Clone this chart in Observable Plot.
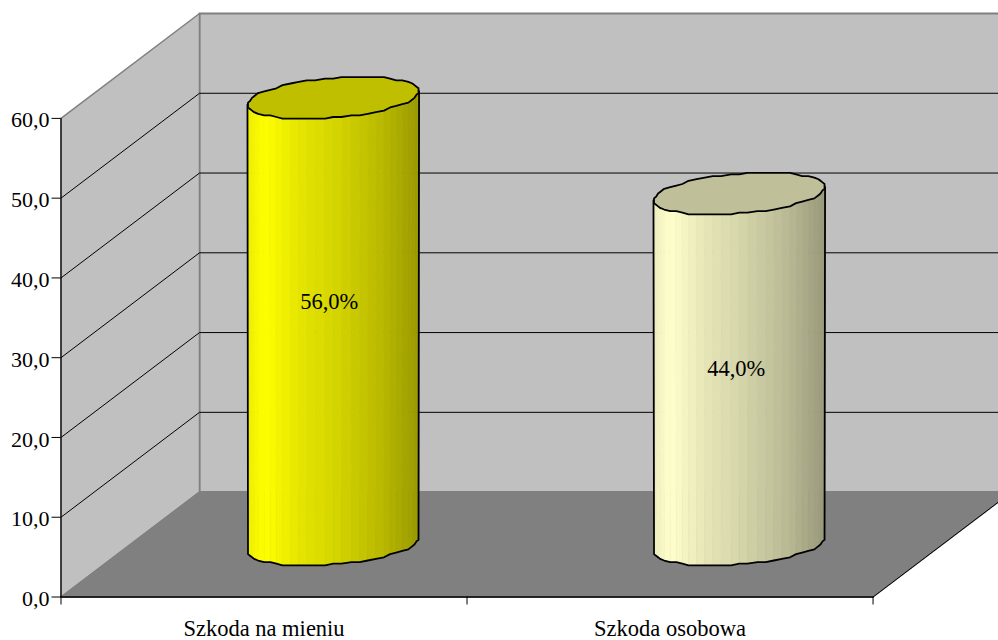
<!DOCTYPE html>
<html lang="pl">
<head>
<meta charset="utf-8">
<style>
  html, body { margin: 0; padding: 0; background: #fff; }
  svg { display: block; }
</style>
<script src="https://cdn.jsdelivr.net/npm/d3@7"></script>
<script src="https://cdn.jsdelivr.net/npm/@observablehq/plot@0.6"></script>
</head>
<body>
<script>
// Chart values
const categories = ["Szkoda na mieniu", "Szkoda osobowa"];
const values = [56.0, 44.0];
const valueLabels = ["56,0%", "44,0%"];
const yTicks = [0, 10, 20, 30, 40, 50, 60];
const yMax = 60;

// Base colour of each cylinder as RGB
const baseColors = [[255, 255, 0], [255, 255, 204]];
// Brightness across the cylinder's width: [position 0..1, multiplier]
const shadeStops = [[0, 0.93], [0.1, 1], [0.3, 0.9], [0.5, 0.84], [0.8, 0.72], [1, 0.6]];
const topShade = 0.75;

// Oblique projection of the 3D box: how far the back of the box shifts
// in x-scale units (one category = 1) and in y-scale units.
const depthX = 0.3411;
const depthY = 13.15;
const project = (u, w, v) => ({x: u + w * depthX, y: v + w * depthY});

// Cylinder footprint: share of a category and of the depth that its radius spans
const radiusU = 0.2;
const radiusW = 0.2;
const facetCount = 30;

// Rim outlines are drawn on a fine grid, which gives them their faceted edge
const snapX = 0.005;
const snapY = 0.2;
const snap = (d, step) => Math.round(d / step) * step;

const shade = d3.scaleLinear(shadeStops.map(s => s[0]), shadeStops.map(s => s[1]));
const tint = (rgb, k) => `rgb(${rgb.map(c => Math.round(c * k)).join(",")})`;

// Point on the rim of cylinder i at angle t and height v
const rim = (i, t, v) =>
  project(i + 0.5 + radiusU * Math.cos(t), 0.5 + radiusW * Math.sin(t), v);
// The same point after snapping its offset from the cylinder's axis
const rimSnapped = (i, t, v) => {
  const c = project(i + 0.5, 0.5, v);
  const p = rim(i, t, v);
  return {x: c.x + snap(p.x - c.x, snapX), y: c.y + snap(p.y - c.y, snapY)};
};

// Angle where the rim reaches its rightmost point on screen
const tangent = Math.atan2(radiusW * depthX, radiusU);
const frontAngles = d3.range(facetCount + 1).map(k => tangent - Math.PI * k / facetCount).reverse();
const fullAngles = d3.range(61).map(k => tangent + k * Math.PI / 30);

const wallFill = "#c0c0c0";
const floorFill = "#808080";
const edge = "#808080";
const formatTick = d => d.toFixed(1).replace(".", ",");

const polygon = (points, options) => Plot.line(points, {x: "x", y: "y", ...options});

const marks = [
  // Back wall
  polygon([project(0, 1, 0), project(0, 1, yMax), project(2, 1, yMax), project(2, 1, 0), project(0, 1, 0)],
    {fill: wallFill, stroke: edge, strokeWidth: 2}),
  // Side wall
  polygon([project(0, 0, 0), project(0, 0, yMax), project(0, 1, yMax), project(0, 1, 0), project(0, 0, 0)],
    {fill: wallFill, stroke: edge, strokeWidth: 1.5}),
  // Floor
  polygon([project(0, 0, 0), project(2, 0, 0), project(2, 1, 0), project(0, 1, 0), project(0, 0, 0)],
    {fill: floorFill, stroke: edge, strokeWidth: 1.5}),
  // Front-right floor edge
  polygon([project(2, 0, 0), project(2, 1, 0)], {stroke: "#000", strokeWidth: 1}),
  // Gridlines on both walls
  ...yTicks.filter(v => v > 0 && v < yMax).map(v =>
    polygon([project(0, 0, v), project(0, 1, v), project(2, 1, v)], {stroke: "#000", strokeWidth: 1})),
  // Axis lines and ticks
  polygon([project(0, 0, 0), project(0, 0, yMax)], {stroke: "#000", strokeWidth: 1.2}),
  polygon([project(0, 0, 0), project(2, 0, 0)], {stroke: "#000", strokeWidth: 1.6}),
  Plot.axisY({ticks: yTicks, tickFormat: () => "", tickSize: 9, label: null, stroke: "#000"}),
  Plot.text(yTicks, {x: () => 0, y: d => d, text: formatTick, textAnchor: "end", dx: -11.5, dy: 2,
    fontSize: 22, fill: "#000"}),
  Plot.axisX({ticks: [0, 1, 2], tickFormat: () => "", tickSize: 8, label: null, stroke: "#000"}),
  Plot.text(categories, {x: (d, i) => i + 0.5, y: () => 0, text: d => d, dy: 32,
    fontSize: 22.5, fill: "#000"})
];

// Cylinders: shaded facets, bottom rim and sides, then the top face
values.forEach((value, i) => {
  const left = rim(i, tangent + Math.PI, 0).x;
  const right = rim(i, tangent, 0).x;
  for (let k = 0; k < facetCount; k++) {
    const [a, b] = [frontAngles[k], frontAngles[k + 1]];
    const mid = (rim(i, a, 0).x + rim(i, b, 0).x) / 2;
    const color = tint(baseColors[i], shade((mid - left) / (right - left)));
    marks.push(polygon(
      [rimSnapped(i, a, 0), rimSnapped(i, b, 0), rim(i, b, value), rim(i, a, value), rimSnapped(i, a, 0)],
      {fill: color, stroke: color, strokeWidth: 0.6}));
  }
  marks.push(polygon(
    [rim(i, frontAngles[0], value), ...frontAngles.map(t => rimSnapped(i, t, 0)), rim(i, tangent, value)],
    {stroke: "#000", strokeWidth: 1.8}));
  marks.push(polygon(fullAngles.map(t => rimSnapped(i, t, value)),
    {fill: tint(baseColors[i], topShade), stroke: "#000", strokeWidth: 1.8}));
});

// Value labels sit at mid-height of each cylinder
marks.push(Plot.text([project(0.5, 0.5, values[0] / 2)], {x: "x", y: "y", text: () => valueLabels[0],
  fontSize: 22.5, fill: "#000", dx: -4, dy: -19}));
marks.push(Plot.text([project(1.5, 0.5, values[1] / 2)], {x: "x", y: "y", text: () => valueLabels[1],
  fontSize: 22.5, fill: "#000", dx: -3, dy: 0}));

const chart = Plot.plot({
  width: 998,
  height: 640,
  marginLeft: 60.5,
  marginRight: 0,
  marginTop: 13,
  marginBottom: 43.5,
  x: {domain: [0, 2.309], axis: null},
  y: {domain: [0, yMax + depthY], axis: null},
  style: {fontFamily: "'Liberation Serif', serif", background: "#fff", color: "#000"},
  marks
});
document.body.appendChild(chart);
</script>
</body>
</html>
